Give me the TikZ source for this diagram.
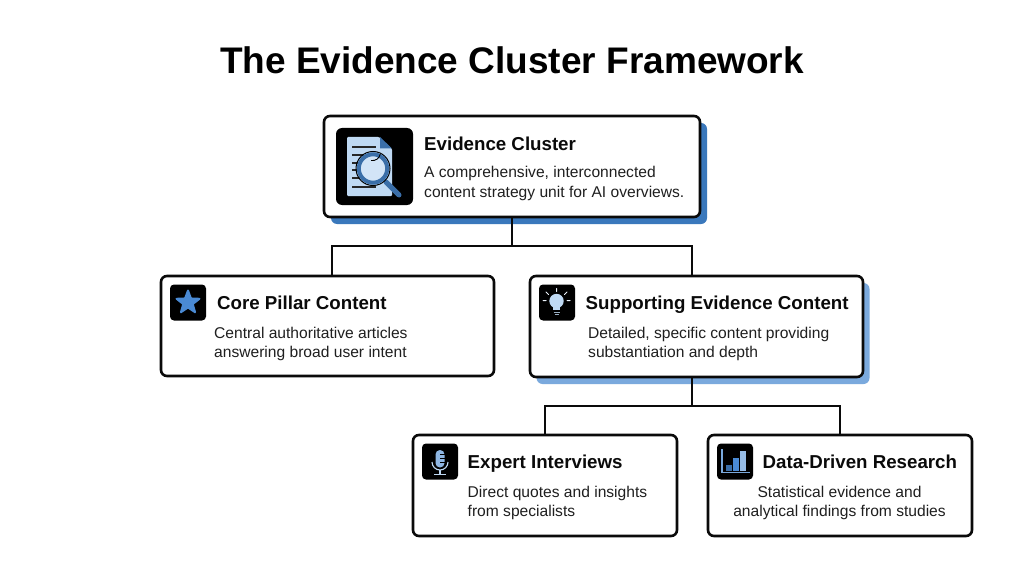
\documentclass[tikz,border=0pt]{standalone}
\usepackage{fontspec}
\setmainfont{Liberation Sans}
\usetikzlibrary{shapes.geometric}
\definecolor{deepblue}{HTML}{3A78BC}
\definecolor{softblue}{HTML}{7AA9DD}
\definecolor{paleblue}{HTML}{BFD9F3}
\definecolor{midblue}{HTML}{4A8AD4}
\definecolor{ringblue}{HTML}{3A6EA8}
\definecolor{inkblack}{HTML}{0A0A0A}
\tikzset{
  x=1pt,y=-1pt,
  cardbox/.style={draw=inkblack,line width=2.6pt,fill=white,rounded corners=6pt,outer sep=0pt,inner sep=0pt},
  shadowbox/.style={rounded corners=6pt,outer sep=0pt,inner sep=0pt},
  iconbox/.style={fill=black,rounded corners=4pt,outer sep=0pt,inner sep=0pt},
  headtext/.style={anchor=base west,inner sep=0pt,font=\fontsize{18.7}{23}\selectfont\bfseries,text=inkblack},
  desctext/.style={anchor=north west,inner sep=0pt,align=left,font=\fontsize{15.6}{19.7}\selectfont,text=black!88},
  wire/.style={draw=inkblack,line width=2.6pt},
}
\begin{document}
\begin{tikzpicture}
\useasboundingbox (0,0) rectangle (1024,572);
\fill[white] (0,0) rectangle (1024,572);
\node[inner sep=0pt,font=\fontsize{37}{44}\selectfont\bfseries,text=black] (title) at (512,60) {The Evidence Cluster Framework};

% shadows
\node[shadowbox,fill=deepblue,minimum width=376pt,minimum height=101pt] (rootshadow) at (519,173.5) {};
\node[shadowbox,fill=softblue,minimum width=333pt,minimum height=101pt] (supportshadow) at (703,333.5) {};

% connectors
\coordinate (busone) at (512,246);
\coordinate (coretop) at (332,276);
\coordinate (supporttop) at (692,276);
\coordinate (supportbottom) at (692,377);
\coordinate (bustwo) at (692,406);

% cards
\node[cardbox,minimum width=376pt,minimum height=101pt] (root) at (512,166.5) {};
\node[cardbox,minimum width=333pt,minimum height=100pt] (core) at (327.5,326) {};
\node[cardbox,minimum width=333pt,minimum height=101pt] (support) at (696.5,326.5) {};
\node[cardbox,minimum width=264pt,minimum height=101pt] (expert) at (545,485.5) {};
\node[cardbox,minimum width=264pt,minimum height=101pt] (data) at (840,485.5) {};

\draw[wire] (root.south) -- (busone);
\draw[wire] (coretop) |- (supporttop |- busone) -- (supporttop);
\draw[wire] (supportbottom) -- (bustwo);
\draw[wire] (expert.north) |- (data.north |- bustwo) -- (data.north);

% icon tiles
\node[iconbox,minimum size=77pt,rounded corners=6pt] (rooticon) at (374.5,166.5) {};
\node[iconbox,minimum size=36pt] (coreicon) at (188,302.5) {};
\node[iconbox,minimum size=36pt] (supporticon) at (557,302.5) {};
\node[iconbox,minimum size=36pt] (experticon) at (440,461.5) {};
\node[iconbox,minimum size=36pt] (dataicon) at (735,461.5) {};

% document and magnifier
\fill[paleblue,rounded corners=1pt] (347,137) -- (379,137) -- (392,149) -- (392,196) -- (347,196) -- cycle;
\fill[ringblue] (380,137) -- (392,148.5) -- (380,148.5) -- cycle;
\foreach \yy/\xe in {147/376,155/364,163/360,170/358,178/360,187/376}
  \draw[black!85,line width=1.2pt] (352,\yy) -- (\xe,\yy);
\draw[ringblue,line width=5pt,line cap=round] (386,182) -- (399,195);
\draw[black,line width=1pt] (373,168.5) circle (17);
\fill[paleblue!70!white] (373,168.5) circle (12.5);
\draw[ringblue,line width=4pt] (373,168.5) circle (14.2);
\draw[black,line width=.9pt] (371,160.5) arc[start angle=100,end angle=10,radius=8];

% star
\node[star,star points=5,star point ratio=2.4,fill=midblue,draw=midblue,line width=2pt,line join=round,minimum size=24pt,inner sep=0pt] (starshape) at (188,302.5) {};

% bulb
\fill[paleblue] (556.5,301) circle (7.2);
\fill[paleblue] (553,305) rectangle (560,310);
\draw[paleblue!80!black,line width=1pt] (553.5,312) -- (559.5,312) (554.5,314.5) -- (558.5,314.5);
\draw[white!85!softblue,line width=1pt,line cap=round]
  (556.5,288.5) -- (556.5,291.5) (546,292) -- (548.5,294.5) (567,292) -- (564.5,294.5)
  (543,300.5) -- (546,300.5) (567,300.5) -- (570,300.5);

% microphone
\fill[softblue!70!paleblue,rounded corners=4.4pt] (435.5,450) rectangle (444.5,467.5);
\draw[black,line width=.8pt] (440,454.5) -- (444.5,454.5) (440,458.5) -- (444.5,458.5) (440,462.5) -- (444.5,462.5);
\draw[paleblue,line width=1.1pt] (432,462) arc[start angle=180,end angle=0,radius=8];
\draw[paleblue,line width=1.1pt] (440,470) -- (440,474.5) (434,474.5) -- (446,474.5);

% bar chart
\draw[softblue,line width=1.1pt] (722,449) -- (722,472.5) -- (750,472.5);
\fill[ringblue] (726,465) rectangle (731.5,471);
\fill[midblue] (733,458) rectangle (738.5,471);
\fill[softblue!60!paleblue] (739.5,451) rectangle (745.5,471);

% text
\node[headtext] (roothead) at (424,151) {Evidence Cluster};
\node[desctext] (rootdesc) at (424,166) {A comprehensive, interconnected\\content strategy unit for AI overviews.};
\node[headtext] (corehead) at (217,309.5) {Core Pillar Content};
\node[desctext] (coredesc) at (214,326.5) {Central authoritative articles\\answering broad user intent};
\node[headtext] (supporthead) at (585.5,309.5) {Supporting Evidence Content};
\node[desctext] (supportdesc) at (588,326.5) {Detailed, specific content providing\\substantiation and depth};
\node[headtext] (experthead) at (467.5,468) {Expert Interviews};
\node[desctext] (expertdesc) at (467.5,485.5) {Direct quotes and insights\\from specialists};
\node[headtext] (datahead) at (762.5,468) {Data-Driven Research};
\node[desctext,anchor=north,align=center] (datadesc) at (839.5,485.5) {Statistical evidence and\\analytical findings from studies};
\end{tikzpicture}
\end{document}
